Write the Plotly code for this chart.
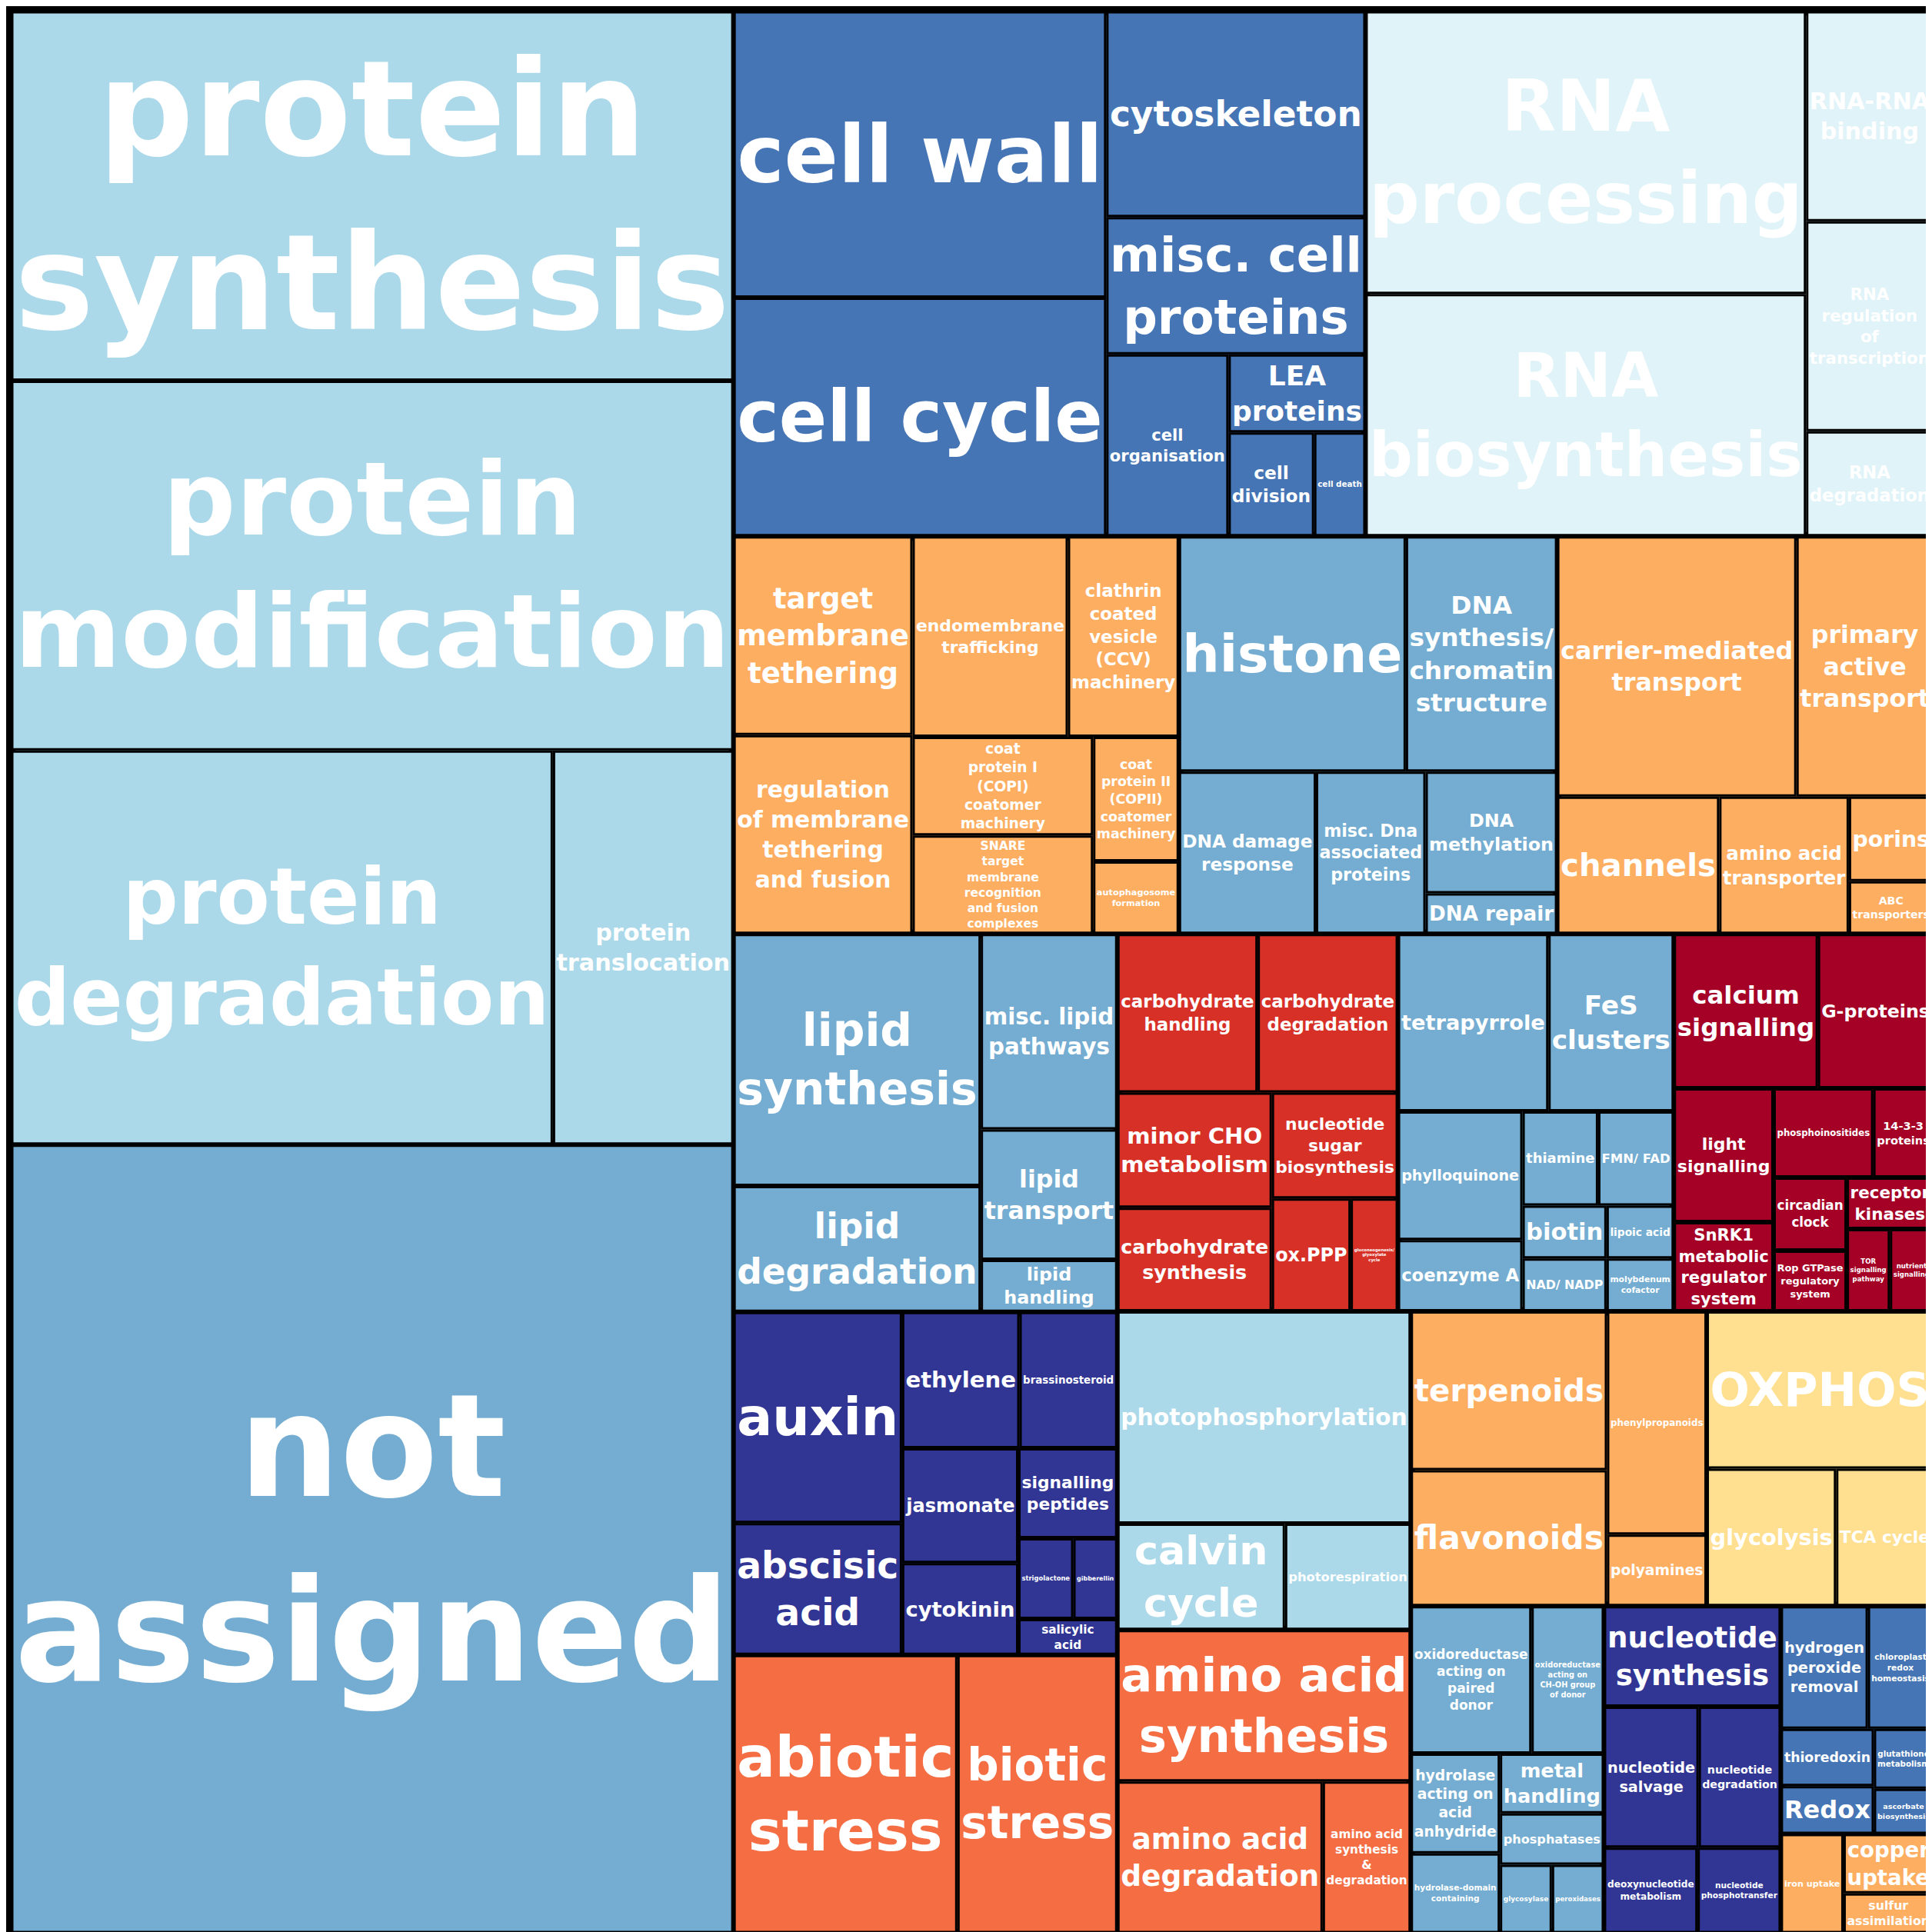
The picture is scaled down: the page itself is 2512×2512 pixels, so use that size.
import plotly.graph_objects as go

groups = ["not assigned", "protein", "photosynthesis", "lipid metabolism", "cell wall / cell", "redox",
          "secondary metabolism", "vesicle trafficking", "DNA", "stress", "signalling", "phytohormones",
          "transport", "amino acid metabolism", "RNA", "nucleotides", "cellular respiration", "coenzyme",
          "carbohydrate metabolism", "enzyme classes", "nutrient uptake"]
group_colors = ["#74add1", "#abd9e9", "#abd9e9", "#74add1", "#4575b4", "#4575b4",
                "#fdae61", "#fdae61", "#74add1", "#f46d43", "#a50026", "#313695",
                "#fdae61", "#f46d43", "#e0f3f8", "#313695", "#fee090", "#74add1",
                "#d73027", "#74add1", "#fdae61"]

leaf_group = []
leaf_names = []
leaf_values = []
def add(g, items):
    for n, v in items:
        leaf_group.append(g); leaf_names.append(n); leaf_values.append(v)

add("not assigned", [("not assigned", 64)])
add("protein", [("protein synthesis", 30), ("protein modification", 30), ("protein degradation", 24),
                ("protein translocation", 8)])
add("photosynthesis", [("photophosphorylation", 7), ("calvin cycle", 2), ("photorespiration", 1.5)])
add("lipid metabolism", [("lipid synthesis", 7), ("lipid degradation", 3.5), ("misc. lipid pathways", 3),
                         ("lipid transport", 2), ("lipid handling", 0.8)])
add("cell wall / cell", [("cell wall", 12), ("cell cycle", 10), ("cytoskeleton", 6), ("misc. cell proteins", 4),
                         ("cell organisation", 2.5), ("LEA proteins", 1.2), ("cell division", 1), ("cell death", 0.6)])
add("redox", [("hydrogen peroxide removal", 1.2), ("chloroplast redox homeostasis", 0.9), ("thioredoxin", 0.6),
              ("Redox", 0.5), ("glutathione metabolism", 0.4), ("ascorbate biosynthesis", 0.3)])
add("secondary metabolism", [("terpenoids", 3.5), ("flavonoids", 3), ("phenylpropanoids", 2.5), ("polyamines", 0.8)])
add("vesicle trafficking", [("target membrane tethering", 4), ("regulation of membrane tethering and fusion", 4),
                            ("endomembrane trafficking", 3.5), ("clathrin coated vesicle (CCV) machinery", 2.5),
                            ("coat protein I (COPI) coatomer machinery", 2), ("SNARE target membrane recognition and fusion complexes", 2),
                            ("coat protein II (COPII) coatomer machinery", 1.2), ("autophagosome formation", 0.7)])
add("DNA", [("histone", 6), ("DNA synthesis/ chromatin structure", 4), ("DNA damage response", 2.5),
            ("misc. Dna associated proteins", 2), ("DNA methylation", 1.8), ("DNA repair", 0.6)])
add("stress", [("abiotic stress", 7), ("biotic stress", 5)])
add("signalling", [("calcium signalling", 2.5), ("G-proteins", 2), ("light signalling", 1.5), ("SnRK1 metabolic regulator system", 1),
                   ("phosphoinositides", 1), ("14-3-3 proteins", 0.6), ("circadian clock", 0.6), ("TOR signalling pathway", 0.4),
                   ("Rop GTPase regulatory system", 0.5), ("receptor kinases", 0.5), ("nutrient signalling", 0.4)])
add("phytohormones", [("auxin", 4), ("abscisic acid", 2.5), ("ethylene", 1.8), ("brassinosteroid", 1.5),
                      ("jasmonate", 1.5), ("cytokinin", 1.2), ("signalling peptides", 1), ("strigolactone", 0.5),
                      ("gibberellin", 0.4), ("salicylic acid", 0.4)])
add("transport", [("carrier-mediated transport", 7), ("primary active transport", 4), ("channels", 2.5),
                  ("amino acid transporter", 2), ("porins", 0.8), ("ABC transporters", 0.5)])
add("amino acid metabolism", [("amino acid synthesis", 5), ("amino acid degradation", 3.5),
                              ("amino acid synthesis &amp; degradation", 1.5)])
add("RNA", [("RNA processing", 14), ("RNA biosynthesis", 12), ("RNA-RNA binding", 3),
            ("RNA regulation of transcription", 3), ("RNA degradation", 1.5)])
add("nucleotides", [("nucleotide synthesis", 2), ("nucleotide salvage", 1.5), ("nucleotide degradation", 1.3),
                    ("deoxynucleotide metabolism", 0.9), ("nucleotide phosphotransfer", 0.8)])
add("cellular respiration", [("OXPHOS", 4), ("glycolysis", 2), ("TCA cycle", 1.5)])
add("coenzyme", [("tetrapyrrole", 3), ("FeS clusters", 2.5), ("phylloquinone", 1.8), ("coenzyme A", 1),
                 ("thiamine", 0.8), ("FMN/ FAD", 0.8), ("biotin", 0.5), ("NAD/ NADP", 0.5), ("lipoic acid", 0.4),
                 ("molybdenum cofactor", 0.4)])
add("carbohydrate metabolism", [("carbohydrate handling", 2.5), ("carbohydrate degradation", 2.5), ("minor CHO metabolism", 2),
                                ("carbohydrate synthesis", 1.8), ("nucleotide sugar biosynthesis", 1.5), ("ox.PPP", 1),
                                ("gluconeogenesis/ glyoxylate cycle", 0.6)])
add("enzyme classes", [("oxidoreductase acting on paired donor", 2), ("oxidoreductase acting on CH-OH group of donor", 1.2),
                       ("hydrolase acting on acid anhydride", 1), ("hydrolase-domain containing", 0.8), ("metal handling", 0.7),
                       ("phosphatases", 0.6), ("glycosylase", 0.4), ("peroxidases", 0.4)])
add("nutrient uptake", [("iron uptake", 0.7), ("copper uptake", 0.6), ("sulfur assimilation", 0.4)])

def wrap(s):
    w = s.split(" ")
    if len(w) == 1:
        return s
    lines, cur = [], ""
    for x in w:
        if cur and len(cur) + len(x) + 1 > 11:
            lines.append(cur); cur = x
        else:
            cur = (cur + " " + x).strip()
    lines.append(cur)
    return "<br>".join(lines)

ids, labels, parents, values, colors, widths, texts = [], [], [], [], [], [], []
for g, c in zip(groups, group_colors):
    tot = sum(v for gg, v in zip(leaf_group, leaf_values) if gg == g)
    ids.append("G:" + g); labels.append(g); parents.append(""); values.append(tot)
    colors.append(c); widths.append(8); texts.append("")
for g, n, v in zip(leaf_group, leaf_names, leaf_values):
    ids.append("L:" + g + ":" + n); labels.append(n); parents.append("G:" + g); values.append(v)
    colors.append(group_colors[groups.index(g)]); widths.append(3); texts.append(wrap(n))

fig = go.Figure(go.Treemap(
    ids=ids, labels=labels, parents=parents, values=values, branchvalues="total",
    text=texts, texttemplate="%{text}",
    marker=dict(colors=colors, line=dict(color="black", width=widths), pad=dict(t=0, l=0, r=0, b=0)),
    textposition="middle center",
    textfont=dict(family="DejaVu Sans", size=240, color="white", weight="bold"),
    pathbar=dict(visible=False), tiling=dict(packing="squarify"), sort=True,
))
fig.update_layout(width=2512, height=2512, margin=dict(l=8, r=8, t=8, b=8),
                  paper_bgcolor="black", plot_bgcolor="black")
fig.write_html("out.html")
